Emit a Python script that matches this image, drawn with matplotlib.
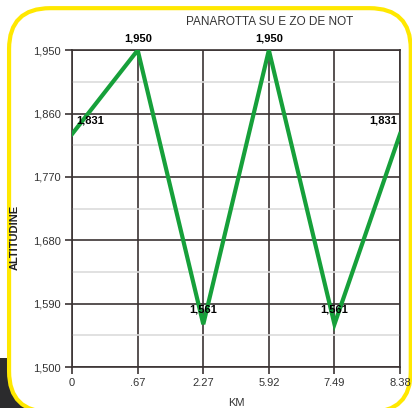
import matplotlib
matplotlib.use("Agg")
import matplotlib.pyplot as plt
from matplotlib.patches import FancyBboxPatch, Rectangle

# data
km_labels = ["0", ".67", "2.27", "5.92", "7.49", "8.38"]
altitude = [1831, 1950, 1561, 1950, 1561, 1831]
y_ticks = [1500, 1590, 1680, 1770, 1860, 1950]

GREEN = "#16a03a"
GRID = "#3b3333"

plt.rcParams["font.family"] = ["Liberation Sans", "DejaVu Sans"]

fig = plt.figure(figsize=(4.12, 4.08), dpi=100)
fig.patch.set_facecolor("white")

# dark block peeking out behind the bottom-left corner
fig.patches.append(Rectangle((0, 0), 0.11, 0.123, transform=fig.transFigure,
                             facecolor="#2b2b2d", edgecolor="none", zorder=0))
# rounded yellow frame
frame = FancyBboxPatch((0.022, -0.01), 0.975, 0.99,
                       boxstyle="round,pad=0,rounding_size=0.1",
                       transform=fig.transFigure, facecolor="white",
                       edgecolor="#ffe800", linewidth=3, zorder=0.5)
fig.patches.append(frame)

ax = fig.add_axes([0.175, 0.1, 0.796, 0.777])
ax.set_zorder(2)
ax.set_facecolor("none")
x = list(range(len(km_labels)))
ax.plot(x, altitude, color=GREEN, linewidth=3, zorder=3, solid_joinstyle="miter")

ax.set_xlim(0, len(km_labels) - 1)
ax.set_ylim(1500, 1950)
ax.set_xticks(x)
ax.set_xticklabels(km_labels, fontsize=8, color="#333333")
ax.set_yticks(y_ticks)
ax.set_yticklabels([f"{v:,}" for v in y_ticks], fontsize=8, color="#333333")
ax.set_yticks([v + 45 for v in y_ticks[:-1]], minor=True)

ax.grid(True, which="major", color=GRID, linewidth=1.2, zorder=1)
ax.grid(True, which="minor", axis="y", color="#dcdcdc", linewidth=1.2, zorder=1)
ax.tick_params(axis="both", which="major", length=5, width=1.2, color=GRID, pad=3)
ax.tick_params(axis="y", which="minor", length=0)
for s in ax.spines.values():
    s.set_color(GRID)
    s.set_linewidth(1.2)

# point labels
for i, v in enumerate(altitude):
    txt = f"{v:,}"
    if v == 1950:
        ax.annotate(txt, (i, v), xytext=(0, 5), textcoords="offset points",
                    ha="center", va="bottom", fontsize=8, fontweight="bold")
    elif v == 1561:
        ax.annotate(txt, (i, v), xytext=(0, 7), textcoords="offset points",
                    ha="center", va="bottom", fontsize=8, fontweight="bold")
    elif i == 0:
        ax.annotate(txt, (i, v), xytext=(3, 6), textcoords="offset points",
                    ha="left", va="bottom", fontsize=8, fontweight="bold")
    else:
        ax.annotate(txt, (i, v), xytext=(-2, 6), textcoords="offset points",
                    ha="right", va="bottom", fontsize=8, fontweight="bold")

fig.text(0.655, 0.945, "PANAROTTA SU E ZO DE NOT", ha="center", va="center",
         fontsize=8.5, color="#333333")
ax.set_xlabel("KM", fontsize=8, color="#333333", labelpad=7)
ax.set_ylabel("ALTITUDINE", fontsize=8, fontweight="bold", color="#222222")
ax.yaxis.set_label_coords(-0.16, 0.41)

fig.savefig("out.png", dpi=100)
